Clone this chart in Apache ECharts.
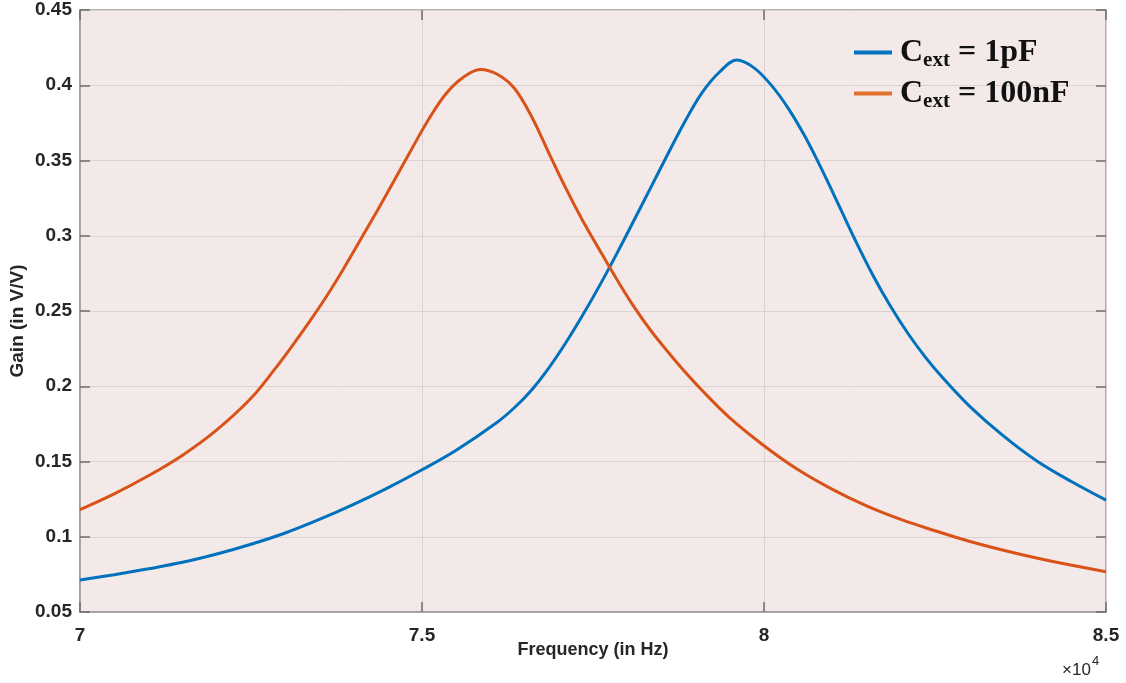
<!DOCTYPE html>
<html>
<head>
<meta charset="utf-8">
<title>Gain vs Frequency</title>
<script src="https://cdn.jsdelivr.net/npm/echarts@6/dist/echarts.min.js"></script>
<style>
  html, body { margin: 0; padding: 0; background: #ffffff; }
  #chart { width: 1126px; height: 683px; }
</style>
</head>
<body>
<div id="chart"></div>
<script>
// Frequency samples (Hz) and gain (V/V) for each external capacitance
const freqBlue = [70000, 70500, 71000, 71500, 72000, 72500, 73000, 73500, 74000, 74500, 75000,
  75500, 76100, 76350, 76600, 76850, 77100, 77350, 77600, 77850, 78100, 78350, 78600, 78850,
  79100, 79350, 79600, 79850, 80100, 80350, 80600, 80850, 81100, 81350, 81600, 81850,
  82100, 82350, 82600, 83000, 83500, 84000, 84500, 85000];
const gainBlue = [0.0713, 0.0748, 0.0787, 0.083, 0.0885, 0.095, 0.1025, 0.1115, 0.1215, 0.1325, 0.1445,
  0.1575, 0.1761, 0.1857, 0.1974, 0.2119, 0.2287, 0.2473, 0.2672, 0.2883, 0.3103, 0.3325, 0.3548, 0.3764,
  0.3954, 0.4088, 0.4167, 0.4117, 0.4004, 0.385, 0.3659, 0.3436, 0.3197, 0.2956, 0.2731, 0.2531,
  0.2354, 0.2199, 0.2063, 0.187, 0.167, 0.150, 0.1365, 0.1243];

const freqOrange = [70000, 70500, 71000, 71500, 72000, 72500, 72850, 73100, 73350, 73600, 73850,
  74100, 74350, 74600, 74850, 75100, 75350, 75600, 75850, 76100, 76350, 76600, 76850, 77100,
  77350, 77600, 77850, 78100, 78350, 78600, 78850, 79100, 79500, 80000, 80500, 81000, 81500,
  82000, 82500, 83000, 83500, 84000, 84500, 85000];
const gainOrange = [0.118, 0.1285, 0.1405, 0.1542, 0.171, 0.192, 0.2115, 0.2267, 0.2426, 0.2595, 0.2778,
  0.2973, 0.317, 0.3372, 0.3577, 0.3776, 0.3944, 0.4052, 0.4105, 0.4073, 0.398, 0.3794, 0.3554, 0.3318,
  0.310, 0.2902, 0.2709, 0.2527, 0.2367, 0.2226, 0.2093, 0.197, 0.179, 0.1605, 0.1445, 0.1315, 0.1205,
  0.1115, 0.104, 0.097, 0.091, 0.0857, 0.081, 0.0768];

const seriesNames = ['Cext = 1pF', 'Cext = 100nF'];
const legendParts = [['C', 'ext', ' = 1pF'], ['C', 'ext', ' = 100nF']];
const xTicks = { min: 70000, max: 85000, step: 5000 };
const yTicks = { min: 0.05, max: 0.45, step: 0.05 };

const pair = (xs, ys) => xs.map((x, i) => [x, ys[i]]);

const sansBold = { fontFamily: '"Liberation Sans", Arial, sans-serif', fontWeight: 'bold', color: '#262626' };
const serifBold = { fontFamily: '"Liberation Serif", "Times New Roman", serif', fontWeight: 'bold', color: '#111111' };
const tickStyle = { show: true, inside: true, length: 10, lineStyle: { color: '#6e6e6e', width: 1.5 } };

const chart = echarts.init(document.getElementById('chart'), null, { renderer: 'canvas' });

chart.setOption({
  animation: false,
  backgroundColor: '#ffffff',
  grid: {
    left: 80, right: 20, top: 10, bottom: 71,
    show: true,
    backgroundColor: '#f4e9e9',
    borderColor: '#9a9a9a',
    borderWidth: 1.5
  },
  legend: {
    orient: 'vertical',
    left: 849,
    top: 29,
    itemWidth: 38,
    itemHeight: 4,
    itemGap: 4,
    icon: 'rect',
    data: seriesNames,
    formatter: name => {
      const p = legendParts[seriesNames.indexOf(name)];
      return '{c0|' + p[0] + '}{s|' + p[1] + '}{c|' + p[2] + '}';
    },
    textStyle: {
      rich: {
        c0: Object.assign({ fontSize: 32, lineHeight: 36, padding: [0, 0, 0, 3] }, serifBold),
        c: Object.assign({ fontSize: 32, lineHeight: 36 }, serifBold),
        s: Object.assign({ fontSize: 21, lineHeight: 36, padding: [16, 0, 0, 0] }, serifBold)
      }
    }
  },
  xAxis: [{
    type: 'value',
    min: xTicks.min, max: xTicks.max, interval: xTicks.step,
    name: 'Frequency (in Hz)',
    nameLocation: 'middle',
    nameGap: 29,
    nameMoveOverlap: false,
    nameTextStyle: Object.assign({ fontSize: 18 }, sansBold),
    axisLine: { show: true, lineStyle: { color: '#9a9a9a', width: 1.5 } },
    axisTick: tickStyle,
    axisLabel: Object.assign({ fontSize: 19, margin: 14, formatter: v => String(v / 10000) }, sansBold),
    splitLine: { show: true, lineStyle: { color: '#ddd2d2', width: 1 } }
  }, {
    type: 'value', position: 'top',
    min: xTicks.min, max: xTicks.max, interval: xTicks.step,
    axisLine: { show: false },
    axisTick: tickStyle,
    axisLabel: { show: false },
    splitLine: { show: false }
  }],
  yAxis: [{
    type: 'value',
    min: yTicks.min, max: yTicks.max, interval: yTicks.step,
    axisLine: { show: true, lineStyle: { color: '#9a9a9a', width: 1.5 } },
    axisTick: tickStyle,
    axisLabel: Object.assign({ fontSize: 19, margin: 8, formatter: v => String(+v.toFixed(2)) }, sansBold),
    splitLine: { show: true, lineStyle: { color: '#ddd2d2', width: 1 } }
  }, {
    type: 'value', position: 'right',
    min: yTicks.min, max: yTicks.max, interval: yTicks.step,
    axisLine: { show: false },
    axisTick: tickStyle,
    axisLabel: { show: false },
    splitLine: { show: false }
  }],
  graphic: [
    {
      type: 'text', x: 18, y: 321, rotation: Math.PI / 2,
      style: { text: 'Gain (in V/V)', font: 'bold 19px "Liberation Sans", Arial, sans-serif',
        fill: '#262626', align: 'center', verticalAlign: 'middle' }
    },
    { type: 'text', left: 1062, top: 662, style: { text: '×10', font: '17px "Liberation Sans", Arial, sans-serif', fill: '#262626' } },
    { type: 'text', left: 1092, top: 655, style: { text: '4', font: '13px "Liberation Sans", Arial, sans-serif', fill: '#262626' } }
  ],
  series: [{
    name: seriesNames[0],
    type: 'line',
    smooth: 0.35,
    symbol: 'none',
    data: pair(freqBlue, gainBlue),
    lineStyle: { color: '#0072BD', width: 3 },
    itemStyle: { color: '#0072BD' }
  }, {
    name: seriesNames[1],
    type: 'line',
    smooth: 0.35,
    symbol: 'none',
    data: pair(freqOrange, gainOrange),
    lineStyle: { color: '#D95319', width: 3 },
    itemStyle: { color: '#E0702D' }
  }]
});
</script>
</body>
</html>
